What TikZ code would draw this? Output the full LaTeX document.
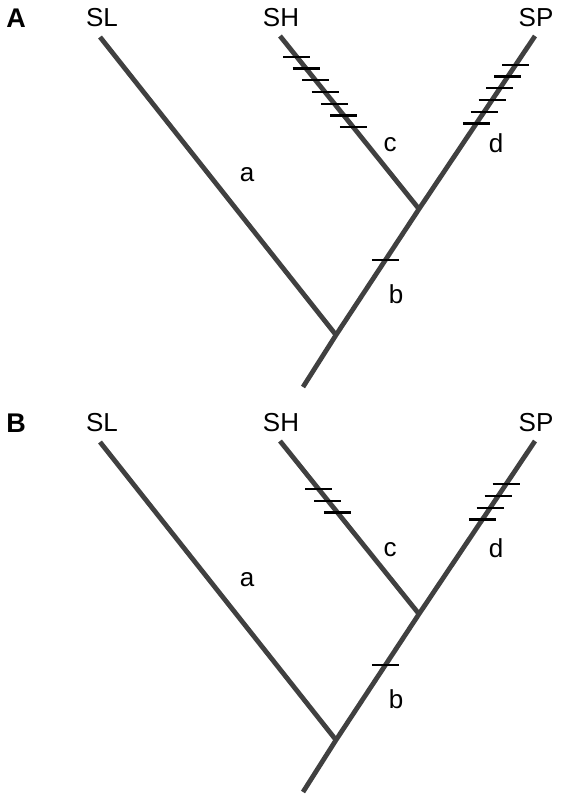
\documentclass[tikz,border=0pt]{standalone}
\usepackage{fontspec}
\setmainfont{Liberation Sans}
\usepackage{tikz}
\usetikzlibrary{positioning,calc}
\usepackage{xcolor}
\definecolor{branchgray}{RGB}{64,64,64}

\begin{document}
\begin{tikzpicture}[x=1pt,y=-1pt,
    branch/.style={line width=4.8pt,draw=branchgray},
    tickmark/.style={line width=2.2pt,draw=black},
    taxon/.style={font=\fontsize{26}{26}\selectfont},
    panel/.style={font=\fontsize{27}{27}\selectfont\bfseries},
    brlab/.style={font=\fontsize{26}{26}\selectfont}]
    \useasboundingbox (0,0) rectangle (561,800);
    % same tree twice, only the marks on c and d differ
    \foreach \p/\dy/\cs/\cn/\ds/\dn in {A/0/0.12/6/0.166/5, B/405/0.277/2/0.25/3} {
        \begin{scope}[shift={(0,\dy)}]
            \node[panel] (lab\p) at (16,18) {\p};
            \node[taxon] (SL\p) at (102,18) {SL};
            \node[taxon] (SH\p) at (281,18) {SH};
            \node[taxon] (SP\p) at (536,18) {SP};
            \coordinate (tSL\p) at (100,37);
            \coordinate (tSH\p) at (280,36);
            \coordinate (tSP\p) at (535,36);
            \coordinate (jcd\p) at (419,209);
            \coordinate (root\p) at (336,335);
            \coordinate (bot\p) at (303,387);
            \draw[branch] (bot\p) -- (root\p) -- (jcd\p) -- (tSP\p);
            \draw[branch] (tSL\p) -- (root\p);
            \draw[branch] (tSH\p) -- (jcd\p);
            % tick marks
            \draw[tickmark] ($(root\p)!0.595!(jcd\p)$) ++(-13.5,0) -- ++(27,0);
            \foreach \i [evaluate=\i as \f using \cs+0.068*\i] in {0,...,\cn}
                \draw[tickmark] ($(tSH\p)!\f!(jcd\p)$) ++(-13.5,0) -- ++(27,0);
            \foreach \i [evaluate=\i as \f using \ds+0.068*\i] in {0,...,\dn}
                \draw[tickmark] ($(tSP\p)!\f!(jcd\p)$) ++(-13.5,0) -- ++(27,0);
            \node[brlab] (a\p) at (247,175) {a};
            \node[brlab] (b\p) at (396,294) {b};
            \node[brlab] (c\p) at (390,145) {c};
            \node[brlab] (d\p) at (496,143.5) {d};
        \end{scope}
    }
\end{tikzpicture}
\end{document}
